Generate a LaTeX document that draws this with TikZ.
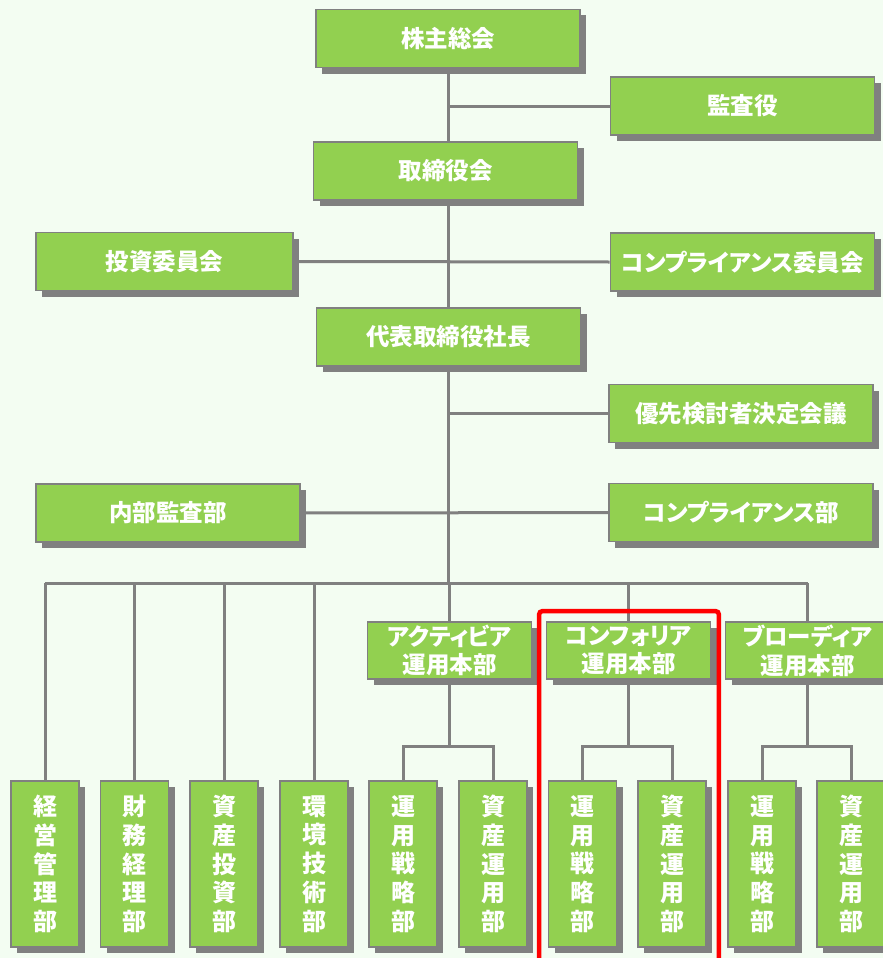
\documentclass[tikz,border=0pt]{standalone}
\usepackage{fontspec}
\newfontfamily\jp{Noto Sans CJK JP}
\newfontfamily\jpp{Noto Sans CJK JP}[RawFeature=+palt]
\usetikzlibrary{shadows,backgrounds}
\definecolor{bgmint}{RGB}{243,253,242}
\definecolor{boxgreen}{RGB}{146,208,80}
\definecolor{linegray}{RGB}{128,128,128}
\tikzset{
  orgbox/.style={draw=linegray, line width=1.6pt, fill=boxgreen, text=white,
    font=\jp\bfseries\fontsize{23.5}{28.75}\selectfont, inner sep=0pt, align=center,
    drop shadow={shadow xshift=6pt, shadow yshift=-6pt, fill=linegray, opacity=1}},
  widebox/.style={orgbox, minimum width=264pt, minimum height=58pt},
  midbox/.style={orgbox, minimum width=164pt, minimum height=57pt},
  tallbox/.style={orgbox, minimum width=68pt, minimum height=166pt,
    font=\jp\bfseries\fontsize{24}{28.75}\selectfont},
  conn/.style={draw=linegray, line width=3pt}
}
\begin{document}
\begin{tikzpicture}[x=1pt,y=-1pt]
\useasboundingbox (0,0) rectangle (883,958);
\clip (0,0) rectangle (883,958);
% top level
\node[widebox] (kabu) at (448,38.5) {株主総会};
\node[widebox] (kansa) at (742.5,106) {監査役};
\node[widebox] (tori) at (445.5,171) {取締役会};
\node[widebox, minimum width=257pt] (toshi) at (164.5,261.5) {投資委員会};
\node[widebox] (comp1) at (742.5,262) {\jpp コンプライアンス委員会};
\node[widebox] (daihyo) at (448.5,337) {代表取締役社長};
\node[widebox] (yusen) at (741,413.5) {優先検討者決定会議};
\node[widebox] (naibu) at (168,513) {内部監査部};
\node[widebox] (comp2) at (741,512.5) {\jpp コンプライアンス部};
% middle level
\node[midbox] (m1) at (449.5,650.5) {{\jpp アクティビア}\\運用本部};
\node[midbox] (m2) at (628.5,650.5) {{\jpp コンフォリア}\\運用本部};
\node[midbox] (m3) at (807.5,650.5) {{\jpp ブローディア}\\運用本部};
% bottom level
\node[tallbox] (b1) at (45,864) {経\\営\\管\\理\\部};
\node[tallbox] (b2) at (134.5,864) {財\\務\\経\\理\\部};
\node[tallbox] (b3) at (224,864) {資\\産\\投\\資\\部};
\node[tallbox] (b4) at (314,864) {環\\境\\技\\術\\部};
\node[tallbox] (b5) at (403,864) {運\\用\\戦\\略\\部};
\node[tallbox] (b6) at (493,864) {資\\産\\運\\用\\部};
\node[tallbox] (b7) at (582.5,864) {運\\用\\戦\\略\\部};
\node[tallbox] (b8) at (672,864) {資\\産\\運\\用\\部};
\node[tallbox] (b9) at (762,864) {運\\用\\戦\\略\\部};
\node[tallbox] (b10) at (851,864) {資\\産\\運\\用\\部};
\coordinate (bus) at (448,583);
\coordinate (br) at (0,746);
\begin{scope}[on background layer]
  \fill[bgmint] (0,0) rectangle (883,958);
  \draw[conn] (kabu.south) -- (bus);
  \draw[conn] (kansa.west) -- (kansa.west -| bus);
  \draw[conn] (toshi.east) -- (comp1.west);
  \draw[conn] (yusen.west) -- (yusen.west -| bus);
  \draw[conn] (naibu.east) -- (comp2.west);
  \draw[conn] (b1.north |- bus) -- (m3.north |- bus);
  \foreach \n in {b1,b2,b3,b4,m1,m2,m3} {
    \draw[conn] (\n.north |- bus) -- (\n.north);
  }
  \draw[conn] (m1.south) -- (m1.south |- br);
  \draw[conn] (b5.north) -- (b5.north |- br) -- (b6.north |- br) -- (b6.north);
  \draw[conn] (m2.south) -- (m2.south |- br);
  \draw[conn] (b7.north) -- (b7.north |- br) -- (b8.north |- br) -- (b8.north);
  \draw[conn] (m3.south) -- (m3.south |- br);
  \draw[conn] (b9.north) -- (b9.north |- br) -- (b10.north |- br) -- (b10.north);
\end{scope}
\draw[red, line width=4.5pt, rounded corners=3pt] (539.2,611.2) rectangle (718.8,980);
\end{tikzpicture}
\end{document}
